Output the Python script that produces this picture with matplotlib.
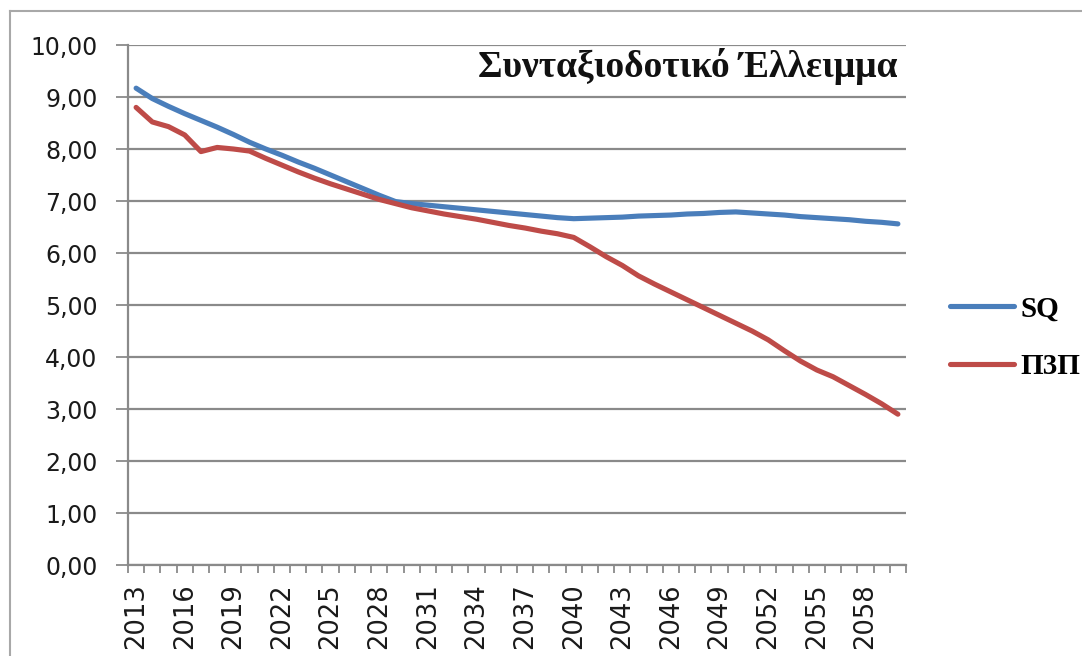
import matplotlib
matplotlib.use('Agg')
import matplotlib.pyplot as plt
from matplotlib.lines import Line2D
from matplotlib.ticker import FuncFormatter
import numpy as np

years = list(range(2013, 2061))
sq = [9.17, 8.97, 8.82, 8.68, 8.55, 8.42, 8.28, 8.13, 8.00, 7.88,
      7.75, 7.63, 7.50, 7.37, 7.24, 7.11, 6.99, 6.95, 6.92, 6.89,
      6.86, 6.83, 6.80, 6.77, 6.74, 6.71, 6.68, 6.66, 6.67, 6.68,
      6.69, 6.71, 6.72, 6.73, 6.75, 6.76, 6.78, 6.79, 6.77, 6.75,
      6.73, 6.70, 6.68, 6.66, 6.64, 6.61, 6.59, 6.56]
p3p = [8.80, 8.52, 8.43, 8.27, 7.95, 8.03, 8.00, 7.96, 7.82, 7.69,
       7.56, 7.44, 7.33, 7.23, 7.13, 7.03, 6.95, 6.87, 6.81, 6.75,
       6.70, 6.65, 6.59, 6.53, 6.48, 6.42, 6.37, 6.30, 6.12, 5.93,
       5.76, 5.56, 5.40, 5.25, 5.10, 4.95, 4.80, 4.65, 4.50, 4.33,
       4.12, 3.92, 3.75, 3.62, 3.45, 3.28, 3.10, 2.90]
tick_years = years[::3]
series_labels = ["SQ", "Π3Π"]
title = "Συνταξιοδοτικό Έλλειμμα"

W, H = 1082, 656
fig = plt.figure(figsize=(W/100, H/100), dpi=100)
ax = fig.add_axes([128/W, 1-565/H, 778/W, 520/H])

x = np.arange(len(years))
grid_c = '#8a8a8a'
l1, = ax.plot(x, sq, color='#4a7ebb', lw=3.7, solid_capstyle='round',
              solid_joinstyle='round', zorder=3)
l2, = ax.plot(x, p3p, color='#be4b48', lw=3.7, solid_capstyle='round',
              solid_joinstyle='round', zorder=3)

ax.set_xlim(-0.5, len(years)-0.5)
ax.set_ylim(0, 10)
ax.set_yticks(range(0, 11))
ax.yaxis.set_major_formatter(FuncFormatter(lambda v, p: f"{v:.2f}".replace('.', ',')))
ax.set_xticks([years.index(t) for t in tick_years])
ax.set_xticklabels([str(t) for t in tick_years], rotation=90)
ax.set_xticks(np.arange(-0.5, len(years)), minor=True)

ax.tick_params(axis='x', which='major', length=0, pad=13, labelsize=18.5, labelcolor='#1a1a1a')
ax.tick_params(axis='x', which='minor', length=6, width=1.3, color=grid_c, direction='out')
ax.tick_params(axis='y', which='major', length=9, width=1.3, color=grid_c, pad=13,
               labelsize=17, labelcolor='#1a1a1a')
ax.grid(axis='y', color=grid_c, lw=1.6, zorder=0)
ax.set_axisbelow(True)
for s in ['top', 'right']:
    ax.spines[s].set_visible(False)
for s in ['left', 'bottom']:
    ax.spines[s].set_color(grid_c)
    ax.spines[s].set_linewidth(1.6)

fig.text(898/W, 1-77/H, title, ha='right', va='baseline',
         fontfamily='Liberation Serif', fontweight='bold', fontsize=27, color='#111111')

leg = fig.legend([l1, l2], series_labels, loc='center left',
                 bbox_to_anchor=(950/W, 1-338/H), frameon=False,
                 prop={'family': 'Liberation Serif', 'weight': 'bold', 'size': 21},
                 handlelength=2.2, handletextpad=0.2, labelspacing=1.05,
                 borderpad=0, borderaxespad=0)

# chart border (partially visible)
fig.add_artist(Line2D([10/W, 10/W], [0, 1-11/H], transform=fig.transFigure,
                      color='#a8a8a8', lw=1.5))
fig.add_artist(Line2D([10/W, 1], [1-11/H, 1-11/H], transform=fig.transFigure,
                      color='#a8a8a8', lw=1.5))

fig.savefig('out.png', dpi=100)
